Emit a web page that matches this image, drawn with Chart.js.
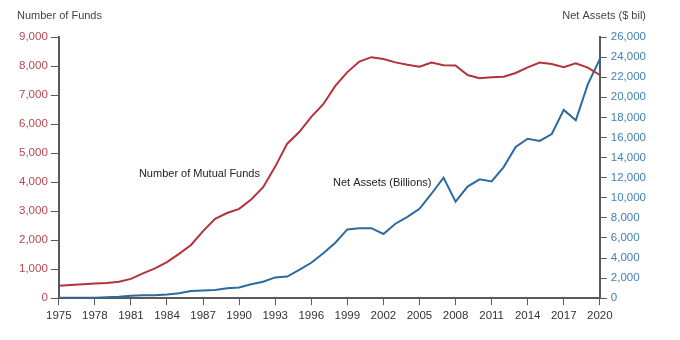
<!DOCTYPE html>
<html>
<head>
<meta charset="utf-8">
<script src="https://cdn.jsdelivr.net/npm/chart.js@4"></script>
<style>
    body { margin: 0; background: #fff; }
    #wrap { width: 680px; height: 340px; }
</style>
</head>
<body>
<div id="wrap"><canvas id="fundsChart" width="680" height="340"></canvas></div>
<script>
const years = [1975, 1976, 1977, 1978, 1979, 1980, 1981, 1982, 1983, 1984, 1985, 1986, 1987, 1988, 1989,
    1990, 1991, 1992, 1993, 1994, 1995, 1996, 1997, 1998, 1999, 2000, 2001, 2002, 2003, 2004,
    2005, 2006, 2007, 2008, 2009, 2010, 2011, 2012, 2013, 2014, 2015, 2016, 2017, 2018, 2019, 2020];

// number of mutual funds (left axis)
const fundCounts = [426, 452, 477, 505, 526, 564, 665, 857, 1026, 1243, 1528, 1835, 2312, 2737, 2935,
    3079, 3403, 3824, 4534, 5325, 5725, 6248, 6684, 7314, 7791, 8155, 8305, 8244, 8126, 8041,
    7975, 8117, 8026, 8022, 7691, 7581, 7613, 7630, 7760, 7956, 8120, 8067, 7956, 8095, 7945, 7690];

// net assets, $ billions (right axis)
const netAssets = [46, 51, 48, 56, 94, 135, 241, 297, 293, 371, 495, 716, 770, 810, 982,
    1065, 1393, 1643, 2070, 2155, 2811, 3526, 4468, 5525, 6846, 6965, 6975, 6390, 7414, 8095,
    8891, 10398, 12001, 9604, 11113, 11833, 11627, 13054, 15049, 15873, 15650, 16344, 18746, 17710, 21290, 23800];

const redLine = '#b23339';
const redText = '#bb4550';
const blueLine = '#2c6aa0';
const blueText = '#4280b5';
const axisGray = '#5a5a5a';
const font = { family: '"Liberation Sans", Arial, sans-serif', size: 11.5 };

document.addEventListener('DOMContentLoaded', () => {
    const ctx = document.getElementById('fundsChart').getContext('2d');

    const textPlugin = {
        id: 'textLabels',
        afterDraw(chart) {
            const c = chart.ctx;
            const x = chart.scales.x;
            const yL = chart.scales.yFunds;
            c.save();
            c.font = '11px "Liberation Sans", Arial, sans-serif';
            c.textBaseline = 'middle';
            c.fillStyle = '#444';
            c.textAlign = 'left';
            c.fillText('Number of Funds', 17, 16);
            c.textAlign = 'right';
            c.fillText('Net Assets ($ bil)', 646, 16);
            c.fillStyle = '#222';
            c.textAlign = 'center';
            c.fillText('Number of Mutual Funds', x.getPixelForValue(1986.7), yL.getPixelForValue(4290));
            c.fillText('Net Assets (Billions)', x.getPixelForValue(2001.9), yL.getPixelForValue(3980));
            c.restore();
        }
    };

    new Chart(ctx, {
        type: 'line',
        data: {
            datasets: [{
                label: 'Number of Mutual Funds',
                data: years.map((yr, i) => ({ x: yr, y: fundCounts[i] })),
                borderColor: redLine,
                borderWidth: 2,
                pointRadius: 0,
                yAxisID: 'yFunds'
            }, {
                label: 'Net Assets (Billions)',
                data: years.map((yr, i) => ({ x: yr, y: netAssets[i] })),
                borderColor: blueLine,
                borderWidth: 2,
                pointRadius: 0,
                yAxisID: 'yAssets'
            }]
        },
        options: {
            responsive: false,
            animation: false,
            layout: { padding: { top: 37, left: 16, right: 30, bottom: 13 } },
            plugins: { legend: { display: false }, tooltip: { enabled: false } },
            scales: {
                x: {
                    type: 'linear',
                    min: 1975,
                    max: 2020,
                    border: { color: axisGray, width: 2 },
                    grid: { drawOnChartArea: false, tickLength: 7, color: axisGray },
                    ticks: {
                        stepSize: 3,
                        autoSkip: false,
                        maxRotation: 0,
                        color: '#333',
                        font: font,
                        padding: 4,
                        callback: v => String(v)
                    }
                },
                yFunds: {
                    position: 'left',
                    min: 0,
                    max: 9000,
                    border: { color: axisGray, width: 2 },
                    grid: { drawOnChartArea: false, tickLength: 8, color: axisGray },
                    ticks: {
                        stepSize: 1000,
                        color: redText,
                        font: font,
                        padding: 3,
                        callback: v => v.toLocaleString('en-US')
                    }
                },
                yAssets: {
                    position: 'right',
                    min: 0,
                    max: 26000,
                    border: { color: axisGray, width: 2 },
                    grid: { drawOnChartArea: false, tickLength: 7, color: axisGray },
                    ticks: {
                        stepSize: 2000,
                        color: blueText,
                        font: font,
                        padding: 4,
                        callback: v => v.toLocaleString('en-US')
                    }
                }
            }
        },
        plugins: [textPlugin]
    });
});
</script>
</body>
</html>
